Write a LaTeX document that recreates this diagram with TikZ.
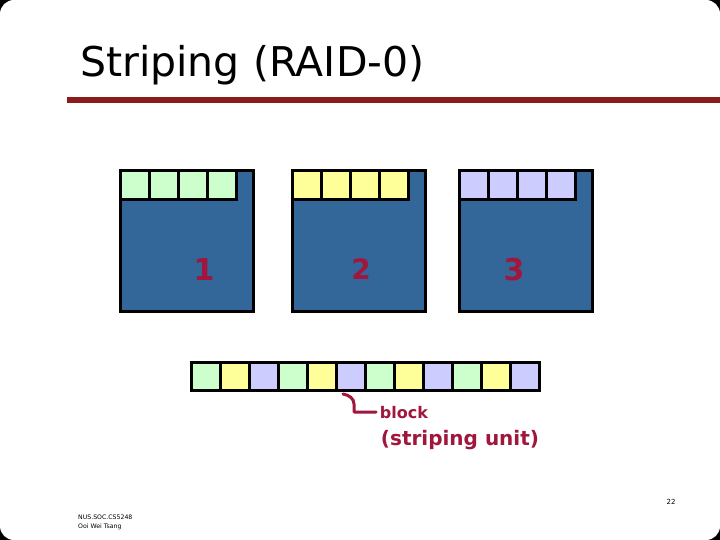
\documentclass[tikz,border=0pt]{standalone}
\usepackage{fontspec}
\setmainfont{DejaVu Sans}
\pgfdeclarelayer{edgelayer}
\pgfdeclarelayer{nodelayer}
\pgfsetlayers{edgelayer,nodelayer,main}
\definecolor{diskblue}{HTML}{336699}
\definecolor{cellgreen}{HTML}{CCFFCC}
\definecolor{cellyellow}{HTML}{FFFF99}
\definecolor{cellblue}{HTML}{CCCCFF}
\definecolor{inkred}{HTML}{A0163C}
\definecolor{rulered}{HTML}{8B1C1C}
\tikzstyle{none}=[inner sep=0pt]
\tikzstyle{disk}=[draw=black, fill=diskblue, line width=3pt, minimum width=133pt, minimum height=141pt, inner sep=0pt, outer sep=0pt, anchor=north west]
\tikzstyle{unit}=[draw=black, line width=3pt, minimum width=29pt, minimum height=29pt, inner sep=0pt, outer sep=0pt, anchor=north west]
\tikzstyle{stripe}=[style=unit, minimum height=28pt]
\tikzstyle{ink}=[inner sep=0pt, text=inkred, font=\bfseries]
\tikzstyle{inkline}=[draw=inkred, line width=3pt, line cap=round, line join=round]

\begin{document}
\begin{tikzpicture}[x=1pt, y=-1pt]
			\useasboundingbox (0,0) rectangle (720,540);
			\begin{pgfonlayer}{nodelayer}
			\node [style=none, anchor=base west, font=\fontsize{41}{46}\selectfont] (title) at (80,77) {Striping (RAID-0)};
			\node [style=disk] (d1) at (120.5,170.5) {};
			\node [style=disk] (d2) at (292.5,170.5) {};
			\node [style=disk] (d3) at (459.5,170.5) {};
			\node [style=unit, fill=cellgreen] (a0) at (120.5,170.5) {};
			\node [style=unit, fill=cellgreen] (a1) at (149.5,170.5) {};
			\node [style=unit, fill=cellgreen] (a2) at (178.5,170.5) {};
			\node [style=unit, fill=cellgreen] (a3) at (207.5,170.5) {};
			\node [style=unit, fill=cellyellow] (b0) at (292.5,170.5) {};
			\node [style=unit, fill=cellyellow] (b1) at (321.5,170.5) {};
			\node [style=unit, fill=cellyellow] (b2) at (350.5,170.5) {};
			\node [style=unit, fill=cellyellow] (b3) at (379.5,170.5) {};
			\node [style=unit, fill=cellblue] (c0) at (459.5,170.5) {};
			\node [style=unit, fill=cellblue] (c1) at (488.5,170.5) {};
			\node [style=unit, fill=cellblue] (c2) at (517.5,170.5) {};
			\node [style=unit, fill=cellblue] (c3) at (546.5,170.5) {};
			\node [style=ink, font=\bfseries\fontsize{30}{32}\selectfont] (n1) at (204,270) {1};
			\node [style=ink, font=\bfseries\fontsize{28}{32}\selectfont] (n2) at (361,269) {2};
			\node [style=ink, font=\bfseries\fontsize{30}{32}\selectfont] (n3) at (514,270) {3};
			\node [style=stripe, fill=cellgreen] (s0) at (191.5,362.5) {};
			\node [style=stripe, fill=cellyellow] (s1) at (220.5,362.5) {};
			\node [style=stripe, fill=cellblue] (s2) at (249.5,362.5) {};
			\node [style=stripe, fill=cellgreen] (s3) at (278.5,362.5) {};
			\node [style=stripe, fill=cellyellow] (s4) at (307.5,362.5) {};
			\node [style=stripe, fill=cellblue] (s5) at (336.5,362.5) {};
			\node [style=stripe, fill=cellgreen] (s6) at (365.5,362.5) {};
			\node [style=stripe, fill=cellyellow] (s7) at (394.5,362.5) {};
			\node [style=stripe, fill=cellblue] (s8) at (423.5,362.5) {};
			\node [style=stripe, fill=cellgreen] (s9) at (452.5,362.5) {};
			\node [style=stripe, fill=cellyellow] (s10) at (481.5,362.5) {};
			\node [style=stripe, fill=cellblue] (s11) at (510.5,362.5) {};
			\node [style=ink, font=\bfseries\fontsize{16}{18}\selectfont] (blk) at (404,413) {block};
			\node [style=ink, font=\bfseries\fontsize{20}{22}\selectfont] (su) at (460,440) {(striping unit)};
			\node [style=none, anchor=west, font=\fontsize{6.2}{7}\selectfont] (f1) at (78,517) {NUS.SOC.CS5248};
			\node [style=none, anchor=west, font=\fontsize{6.2}{7}\selectfont] (f2) at (78,527) {Ooi Wei Tsang};
			\node [style=none, font=\fontsize{7}{8}\selectfont] (pg) at (671,502) {22};
			\end{pgfonlayer}
			\begin{pgfonlayer}{edgelayer}
			\fill[black] (0,0) rectangle (720,540);
			\fill[white, rounded corners=14pt] (0,0) rectangle (720,540);
			\fill[rulered] (67,97) rectangle (720,103);
			\coordinate (k0) at (343,394);
			\coordinate (k1) at (354,404);
			\coordinate (k2) at (354,412);
			\coordinate (k3) at (376,412);
			\draw [style=inkline] (k0) to [out=-10, in=90] (k1) -- (k2) -- (k3);
			\end{pgfonlayer}
\end{tikzpicture}
\end{document}
